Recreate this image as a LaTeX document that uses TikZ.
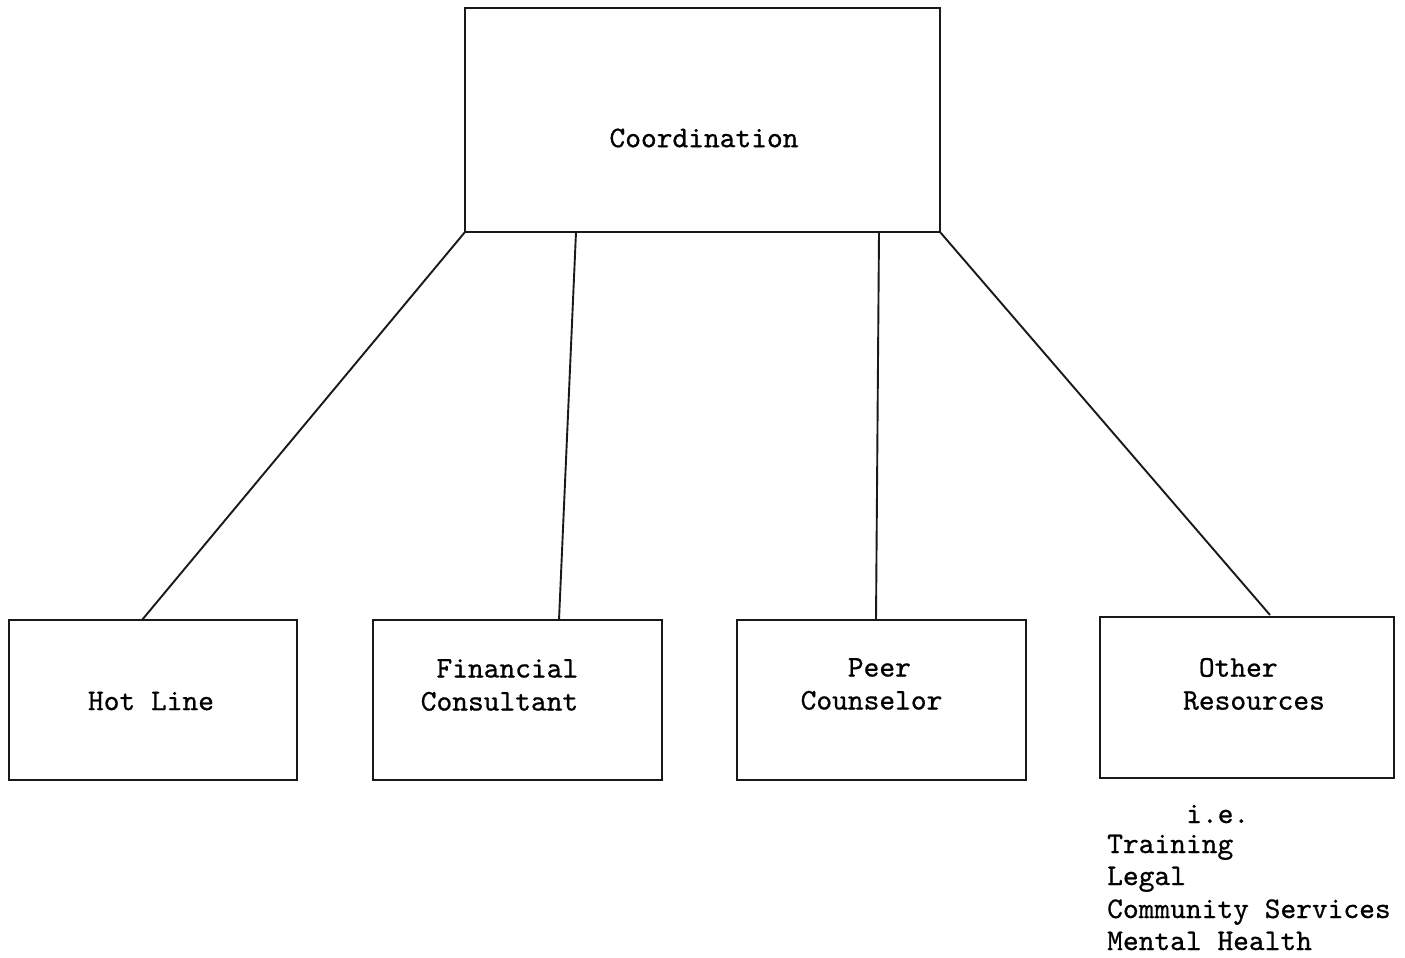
\documentclass[tikz,border=0pt]{standalone}
\usepackage{fontspec}
\newfontfamily\twfont{lmmono10-regular.otf}[FakeBold=0.7]
\begin{document}
\begin{tikzpicture}[x=1pt,y=-1pt,
  box/.style={draw=black!90,line width=1.9pt},
  conn/.style={draw=black!90,line width=1.9pt},
  lbl/.style={font=\fontsize{30}{33}\selectfont\twfont,text=black,inner sep=0pt,align=left},
  item/.style={font=\fontsize{30}{33}\selectfont\twfont,text=black,inner sep=0pt,anchor=base west}]
\useasboundingbox[fill=white] (0,0) rectangle (1405,958);
% boxes
\draw[box] (465,8) rectangle (940,232);
\draw[box] (9,620) rectangle (297,780);
\draw[box] (373,620) rectangle (662,780);
\draw[box] (737,620) rectangle (1026,780);
\draw[box] (1100,617) rectangle (1394,778);
% coordinates for connectors
\coordinate (c1) at (465,232);
\coordinate (c2) at (576,232);
\coordinate (c3) at (879,232);
\coordinate (c4) at (940,232);
\coordinate (h) at (142,620);
\coordinate (f) at (559,620);
\coordinate (p) at (876,620);
\coordinate (o) at (1270,615);
\draw[conn] (c1) -- (h);
\draw[conn] (c2) -- (f);
\draw[conn] (c3) -- (p);
\draw[conn] (c4) -- (o);
% labels
\node[lbl] (coord) at (704,138) {Coordination};
\node[lbl] (hot) at (151,701) {Hot Line};
\node[lbl] (fin) at (499.5,685) {\phantom{x}Financial\\Consultant};
\node[lbl] (peer) at (871.5,684) {\phantom{xxx}Peer\\Counselor};
\node[lbl] (oth) at (1254,684) {\phantom{x}Other\\Resources};
% list
\node[item] (ie) at (1186,823) {i.e.};
\node[item] (tr) at (1107,853) {Training};
\node[item] (lg) at (1107,885) {Legal};
\node[item] (cs) at (1107,918) {Community Services};
\node[item] (mh) at (1107,950) {Mental Health};
\end{tikzpicture}
\end{document}
